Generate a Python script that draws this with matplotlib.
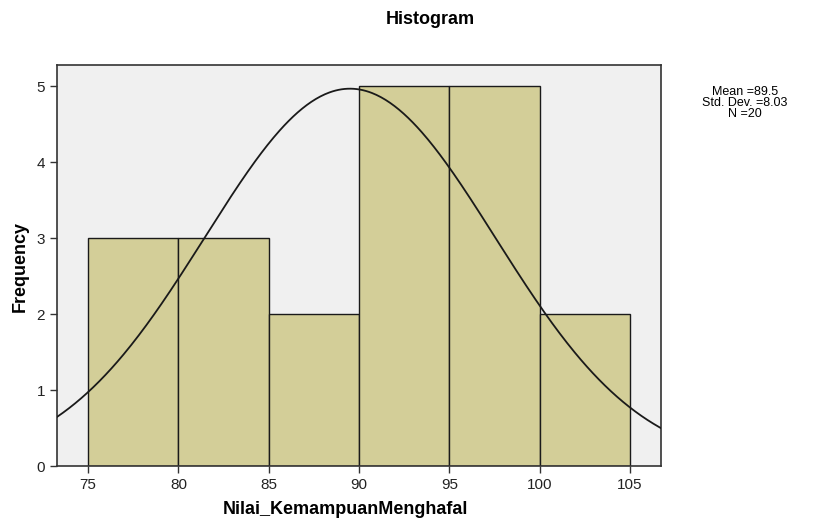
import numpy as np
import matplotlib
matplotlib.use("Agg")
import matplotlib.pyplot as plt

plt.rcParams['font.family'] = ['Liberation Sans', 'DejaVu Sans']

bin_edges = [75, 80, 85, 90, 95, 100, 105]
frequencies = [3, 3, 2, 5, 5, 2]
mean_val = 89.5
std_val = 8.03
n_val = 20
x_ticks = [75, 80, 85, 90, 95, 100, 105]
y_ticks = [0, 1, 2, 3, 4, 5]

fig = plt.figure(figsize=(8.19, 5.21), dpi=100)
ax = fig.add_axes([57/819, 1 - 466/521, (661 - 57)/819, (466 - 65)/521])
ax.set_facecolor('#F0F0F0')

lefts = bin_edges[:-1]
widths = np.diff(bin_edges)
ax.bar(lefts, frequencies, width=widths, align='edge', color='#D3CE98',
       edgecolor='#1a1a1a', linewidth=1.0, zorder=2)

xlim = (73.28, 106.72)
xs = np.linspace(xlim[0], xlim[1], 400)
bw = bin_edges[1] - bin_edges[0]
ys = n_val * bw / (std_val * np.sqrt(2 * np.pi)) * np.exp(-0.5 * ((xs - mean_val) / std_val) ** 2)
ax.plot(xs, ys, color='#1a1a1a', linewidth=1.3, zorder=3)

ax.set_xlim(*xlim)
ax.set_ylim(0, 5.28)
ax.set_xticks(x_ticks)
ax.set_yticks(y_ticks)
ax.tick_params(direction='out', length=5, width=1, colors='#333333', labelsize=11, labelcolor='#222222')
for s in ax.spines.values():
    s.set_color('#333333')
    s.set_linewidth(1.2)

fig.text(345/819, 1 - 510/521, 'Nilai_KemampuanMenghafal', ha='center', va='center',
         fontsize=13, fontweight='bold')
fig.text(20/819, 1 - 266/521, 'Frequency', ha='center', va='center', rotation=90,
         fontsize=13, fontweight='bold')
fig.text(430/819, 1 - 19/521, 'Histogram', ha='center', va='center', fontsize=13, fontweight='bold')

stats = f'Mean ={mean_val}\nStd. Dev. ={std_val}\nN ={n_val}'
fig.text(745/819, 1 - 103/521, stats, ha='center', va='center', fontsize=9, linespacing=0.92)

fig.savefig('out.png', dpi=100)
